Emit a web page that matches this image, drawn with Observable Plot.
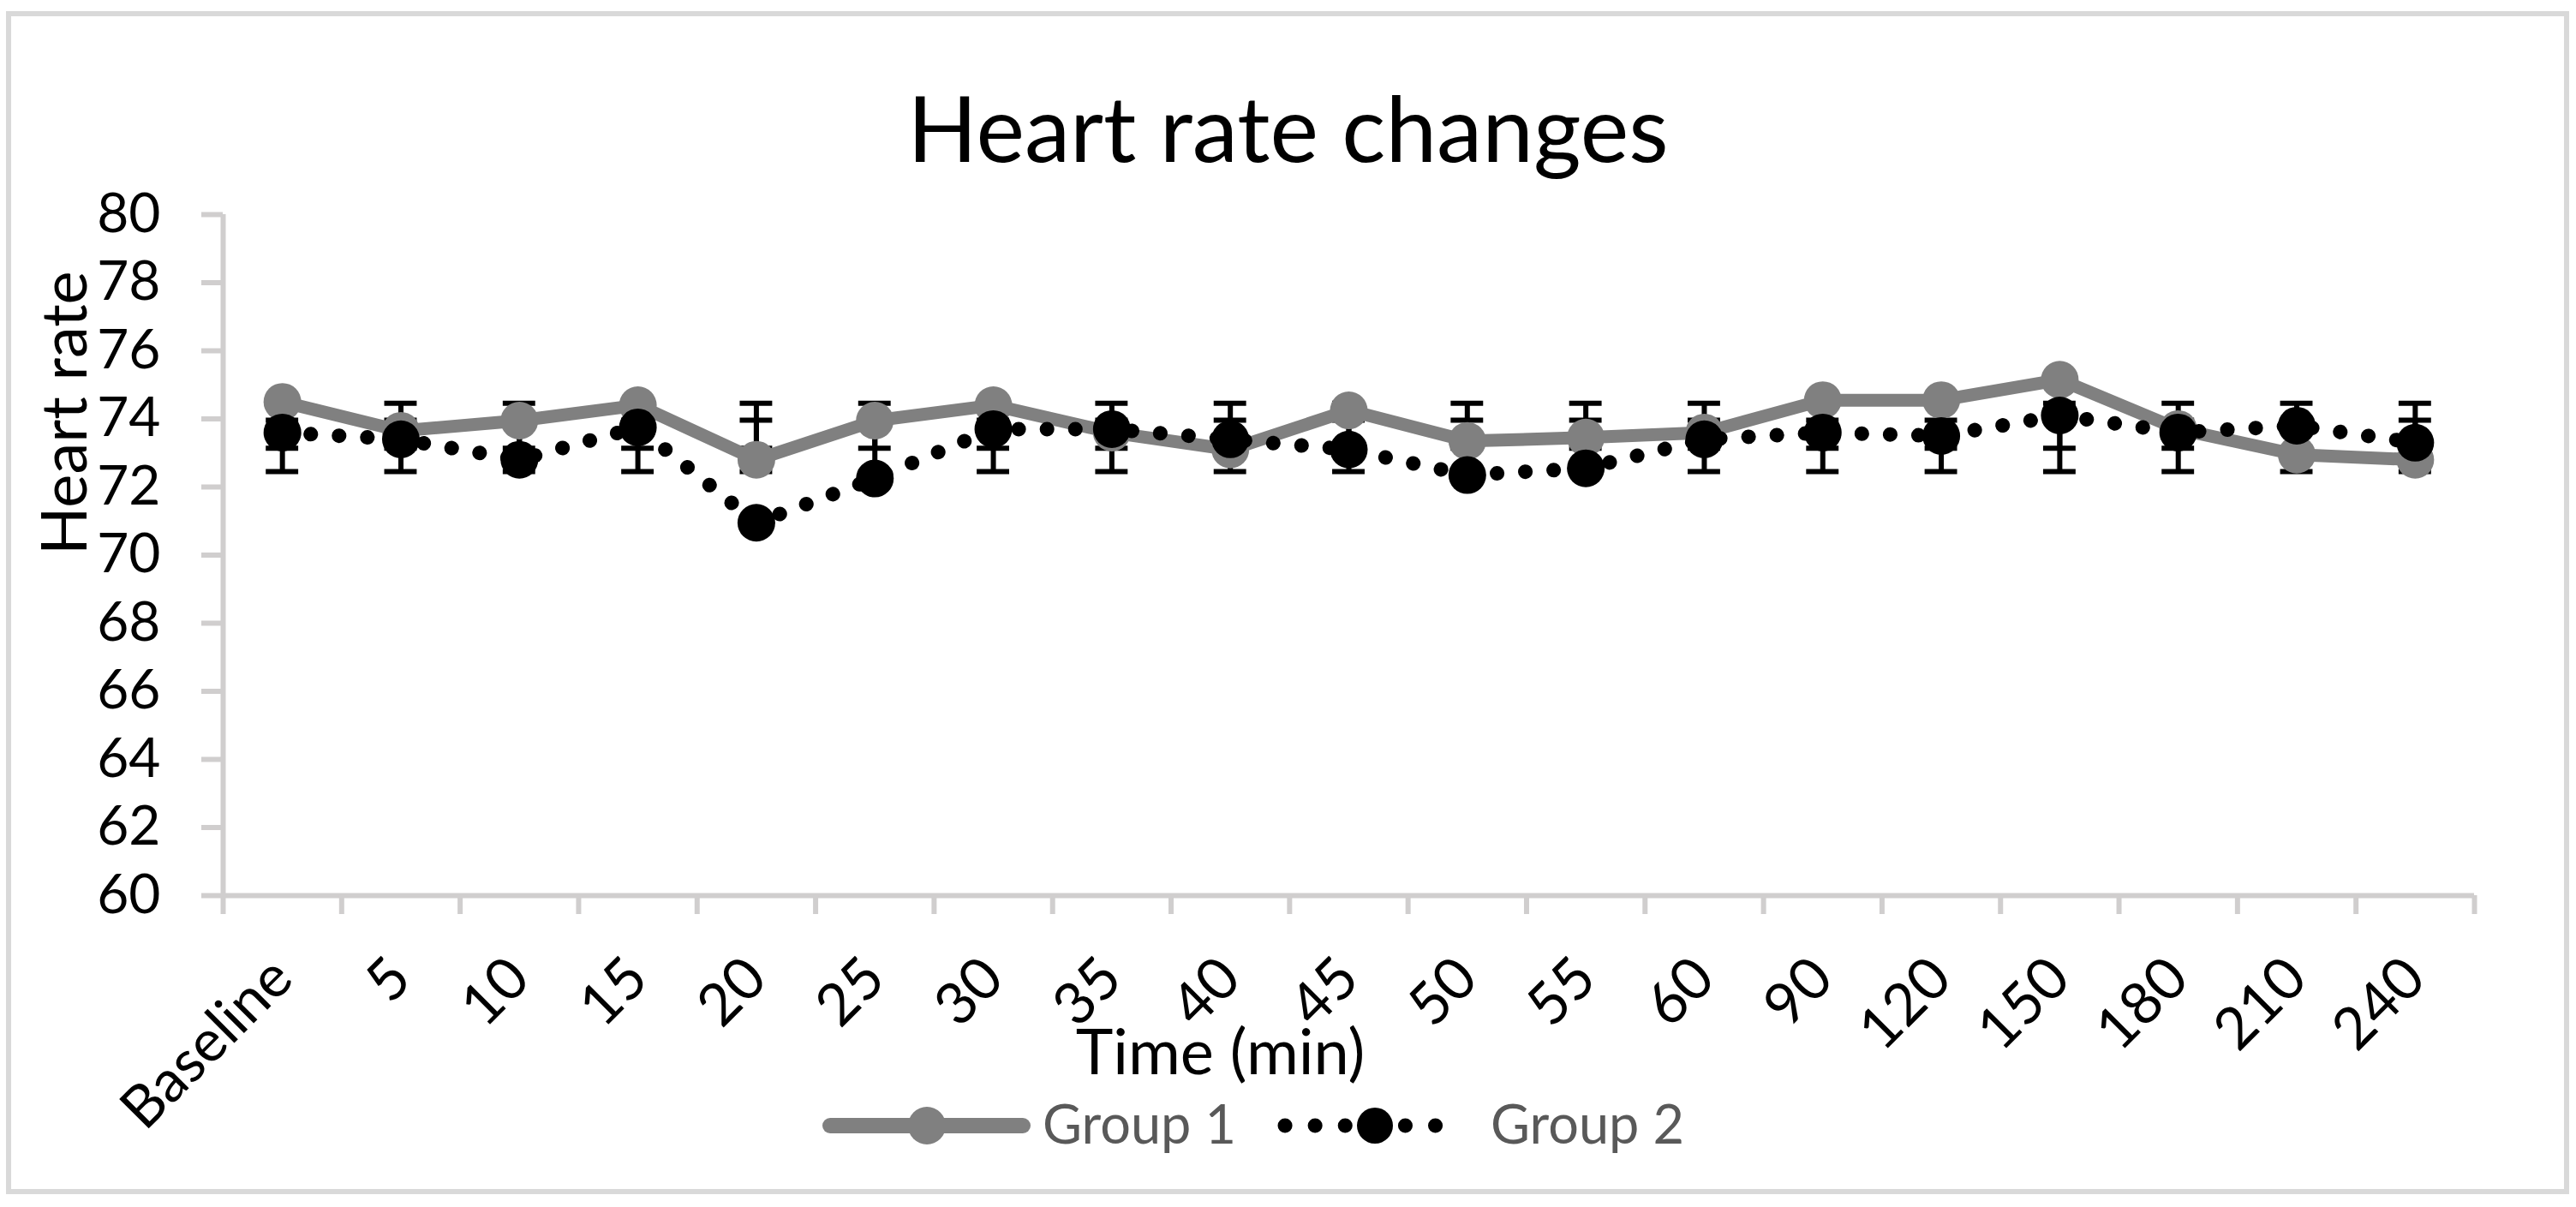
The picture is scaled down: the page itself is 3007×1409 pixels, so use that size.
<!DOCTYPE html>
<html>
<head>
<meta charset="utf-8">
<script src="https://cdn.jsdelivr.net/npm/d3@7"></script>
<script src="https://cdn.jsdelivr.net/npm/@observablehq/plot@0.6"></script>
<style>
  html, body { margin: 0; padding: 0; background: #fff; }
  body { width: 3007px; height: 1409px; position: relative; overflow: hidden; font-family: Lato, "Open Sans", sans-serif; }
  #frame { position: absolute; left: 7px; top: 13px; width: 2992px; height: 1381px; box-sizing: border-box; border: 6px solid #d9d9d9; }
  #title { position: absolute; left: 0; top: 94px; width: 3007px; text-align: center; font-size: 107px; line-height: 107px; color: #000; white-space: nowrap; }
  #chart { position: absolute; left: 0; top: 195px; }
  .sw { position: absolute; top: 1284px; }
  .lt { position: absolute; top: 1279px; font-size: 63px; line-height: 63px; color: #595959; white-space: nowrap; }
</style>
</head>
<body>
<div id="frame"></div>
<div id="title">Heart rate changes</div>
<div id="chart"></div>
<svg class="sw" id="sw1" style="left:960px" width="244" height="60"></svg>
<div class="lt" style="left:1217px">Group 1</div>
<svg class="sw" id="sw2" style="left:1480px" width="250" height="60"></svg>
<div class="lt" style="left:1740px">Group 2</div>
<script>
// ---- data ----
const categories = ["Baseline", "5", "10", "15", "20", "25", "30", "35", "40", "45", "50", "55", "60", "90", "120", "150", "180", "210", "240"];
const group1 = [74.5, 73.65, 73.95, 74.4, 72.8, 73.95, 74.4, 73.6, 73.1, 74.25, 73.35, 73.45, 73.6, 74.55, 74.55, 75.15, 73.7, 72.95, 72.8];
const group2 = [73.6, 73.4, 72.8, 73.75, 70.95, 72.25, 73.7, 73.7, 73.4, 73.1, 72.35, 72.55, 73.4, 73.6, 73.5, 74.1, 73.6, 73.8, 73.3];
const group1ErrLow  = [72.45, 72.45, 72.45, 72.45, 72.45, 72.45, 72.45, 72.45, 72.45, 72.45, 72.45, 72.45, 72.45, 72.45, 72.45, 72.45, 72.45, 72.45, 72.45];
const group1ErrHigh = [74.46, 74.46, 74.46, 74.46, 74.46, 74.46, 74.46, 74.46, 74.46, 74.46, 74.46, 74.46, 74.46, 74.46, 74.46, 74.46, 74.46, 74.46, 74.46];
const group2ErrLow  = [73.14, 73.14, 73.14, 73.14, 73.14, 73.14, 73.14, 73.14, 73.14, 73.14, 73.14, 73.14, 73.14, 73.14, 73.14, 73.14, 73.14, 73.14, 73.14];
const group2ErrHigh = [73.96, 73.96, 73.96, 73.96, 73.96, 73.96, 73.96, 73.96, 73.96, 73.96, 73.96, 73.96, 73.96, 73.96, 73.96, 73.96, 73.96, 73.96, 73.96];
const yTicks = [60, 62, 64, 66, 68, 70, 72, 74, 76, 78, 80];

// ---- styles ----
const gray = "#808080";
const axisColor = "#d0cece";
const capHalf = 0.137; // half cap width, in category units

const idx = categories.map((_, i) => i);
const bounds = idx.map(i => i - 0.5).concat([categories.length - 0.5]);
const rows1 = idx.map(i => ({i, v: group1[i], lo: group1ErrLow[i], hi: group1ErrHigh[i]}));
const rows2 = idx.map(i => ({i, v: group2[i], lo: group2ErrLow[i], hi: group2ErrHigh[i]}));

function errorBars(rows) {
  return [
    Plot.ruleX(rows, {x: "i", y1: "lo", y2: "hi", stroke: "black", strokeWidth: 6}),
    Plot.ruleY(rows, {y: "lo", x1: d => d.i - capHalf, x2: d => d.i + capHalf, stroke: "black", strokeWidth: 6}),
    Plot.ruleY(rows, {y: "hi", x1: d => d.i - capHalf, x2: d => d.i + capHalf, stroke: "black", strokeWidth: 6})
  ];
}

const chart = Plot.plot({
  width: 3007,
  height: 1130,
  marginTop: 55,
  marginBottom: 280,
  marginLeft: 260,
  marginRight: 119,
  style: {fontFamily: "Lato, 'Open Sans', sans-serif", fontSize: "64px", background: "transparent", color: "black", overflow: "visible"},
  x: {type: "linear", domain: [-0.5, categories.length - 0.5], axis: null},
  y: {domain: [60, 80], axis: null},
  marks: [
    // y axis: ticks, line, labels
    Plot.axisY({ticks: yTicks, tickSize: 25, stroke: axisColor, strokeWidth: 6, tickFormat: () => "", label: null}),
    Plot.ruleX([-0.5], {stroke: axisColor, strokeWidth: 6}),
    Plot.text(yTicks, {frameAnchor: "left", y: d => d, text: d => String(d), dx: -73, textAnchor: "end", lineAnchor: "middle", fontSize: 64, fill: "black"}),
    // x axis: line, boundary ticks, rotated labels
    Plot.ruleY([60], {stroke: axisColor, strokeWidth: 6}),
    Plot.axisX({ticks: bounds, tickSize: 22, stroke: axisColor, strokeWidth: 6, tickFormat: () => "", label: null}),
    Plot.text(idx, {x: d => d, frameAnchor: "bottom", text: d => categories[d], rotate: -45, textAnchor: "end", lineAnchor: "middle", dy: 85, fontSize: 68, fill: "black"}),
    // axis titles
    Plot.text(["Time (min)"], {frameAnchor: "bottom", dx: -150, dy: 208, fontSize: 74, fill: "black"}),
    Plot.text(["Heart rate"], {frameAnchor: "left", rotate: -90, dx: -183, fontSize: 74, fill: "black"}),
    // error bars
    ...errorBars(rows1),
    ...errorBars(rows2),
    // series
    Plot.line(rows1, {x: "i", y: "v", stroke: gray, strokeWidth: 15, strokeLinejoin: "round"}),
    Plot.dot(rows1, {x: "i", y: "v", r: 22, fill: gray}),
    Plot.line(rows2, {x: "i", y: "v", stroke: "black", strokeWidth: 17, strokeDasharray: "0.1 33", strokeLinecap: "round"}),
    Plot.dot(rows2, {x: "i", y: "v", r: 22, fill: "black"})
  ]
});
document.getElementById("chart").appendChild(chart);

// ---- legend swatches ----
const sw1 = d3.select("#sw1");
sw1.append("line").attr("x1", 9).attr("x2", 234).attr("y1", 30).attr("y2", 30)
  .attr("stroke", gray).attr("stroke-width", 18).attr("stroke-linecap", "round");
sw1.append("circle").attr("cx", 122).attr("cy", 30).attr("r", 22).attr("fill", gray);
const sw2 = d3.select("#sw2");
sw2.append("line").attr("x1", 20).attr("x2", 230).attr("y1", 30).attr("y2", 30)
  .attr("stroke", "black").attr("stroke-width", 17).attr("stroke-dasharray", "0.1 35").attr("stroke-linecap", "round");
sw2.append("circle").attr("cx", 125).attr("cy", 30).attr("r", 21).attr("fill", "black");
</script>
</body>
</html>
